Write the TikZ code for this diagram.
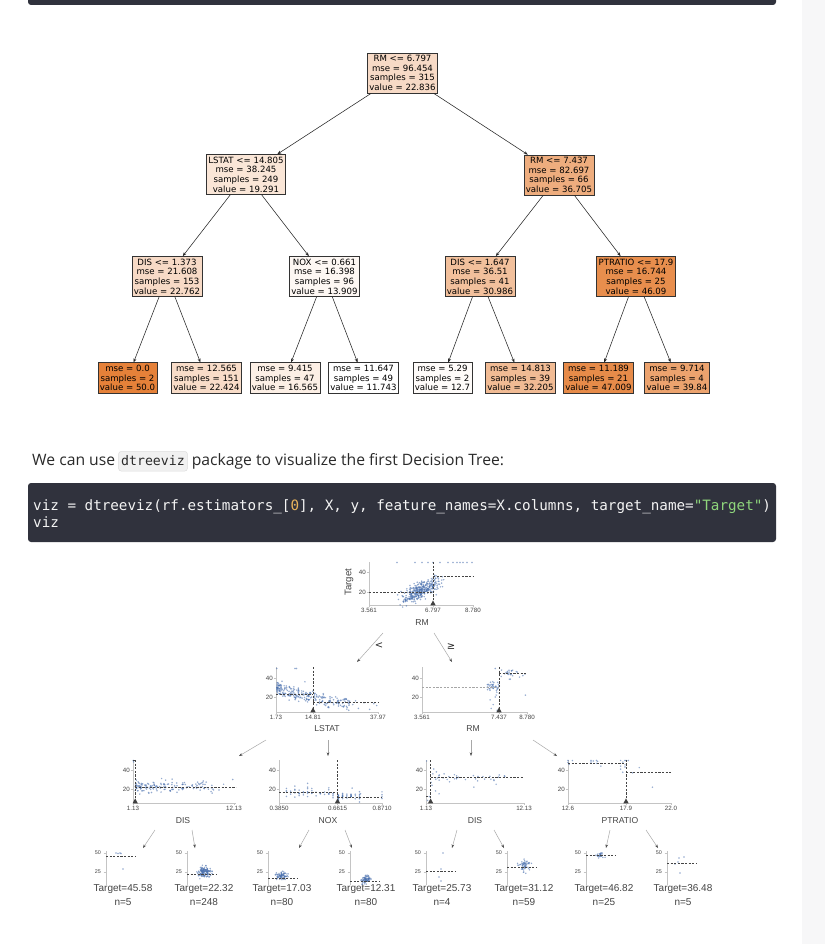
\documentclass[tikz,border=0pt]{standalone}
\usepackage{fontspec}
\setmainfont{Open Sans}
\newfontfamily\dejavu{DejaVu Sans}
\newfontfamily\codefont{DejaVu Sans Mono}
\newfontfamily\lib{Liberation Sans}
\usetikzlibrary{arrows.meta,calc}
\definecolor{sko}{HTML}{E58139}
\definecolor{codebg}{HTML}{30323D}
\definecolor{codefg}{HTML}{F4F4F4}
\definecolor{codenum}{HTML}{E8B35C}
\definecolor{codestr}{HTML}{8FD67C}
\definecolor{chipbg}{HTML}{F1F1F1}
\definecolor{chipbd}{HTML}{DCDCDC}
\definecolor{sidec}{HTML}{F7F7F8}
\definecolor{dotb}{HTML}{4C72B0}
\definecolor{axc}{HTML}{C4C4C4}
\definecolor{labc}{HTML}{444444}
\definecolor{arrc}{HTML}{A8A8A8}
\definecolor{parac}{HTML}{2A2A2A}
\newcount\tkc
\newcommand\tklabel[4]{\global\advance\tkc by 1
  \node[ticklab,anchor=#1] (tk\the\tkc) at (#2,#3) {#4};}
\newcommand\yt[3]{\draw[axl] (#1-2.2,#2) -- (#1,#2); \tklabel{east}{#1-2.6}{#2}{#3}}
\newcommand\xt[3]{\draw[axl] (#1,#2) -- (#1,#2+2.2); \tklabel{north}{#1}{#2+2.6}{#3}}
\newcommand\tri[2]{\fill[black!75] (#1,#2-4.6) -- (#1-2.6,#2+0.3) -- (#1+2.6,#2+0.3) -- cycle;}
\newcommand\blob[7]{\foreach \i in {1,...,#1}{%
  \pgfmathsetmacro\pxq{#2+#4*(rand+rand+rand)}%
  \pgfmathsetmacro\pyq{max(#6,min(#7,#3+#5*(rand+rand+rand)))}%
  \fill[dotc] (\pxq,\pyq) circle[radius=0.8pt];}}
\newcommand\mpts[5]{\foreach \aq/\bq in {#5}{%
  \pgfmathsetmacro\pxq{#1+(\aq-#3)*#2}%
  \pgfmathsetmacro\pyq{#4-0.95*\bq}%
  \fill[dotc] (\pxq,\pyq) circle[radius=0.85pt];}}
\newcommand\leafax[5]{%
  \draw[axl] (#1,851) -- (#1,885);
  \draw[axl] (#1-2.5,853) -- (#1,853);
  \draw[axl] (#1-2.5,872) -- (#1,872);
  \global\advance\tkc by 1
  \node[leaftick,anchor=east] (tk\the\tkc) at (#1-4.5,853) {50};
  \global\advance\tkc by 1
  \node[leaftick,anchor=east] (tk\the\tkc) at (#1-4.5,872) {25};
  \draw[split] (#1,#2) -- (#1+30,#2);
  \global\advance\tkc by 1
  \node[leaflab] (lt\the\tkc) at (#3,889) {Target=#4};
  \node[leaflab] (ln\the\tkc) at (#3,902) {n=#5};}
\begin{document}
\begin{tikzpicture}[x=1pt,y=-1pt,
  tn/.style={draw=black!80, line width=0.6pt, inner xsep=2pt, inner ysep=2.4pt,
     align=center, font=\dejavu\fontsize{8.6}{9.6}\selectfont},
  ta/.style={-{Stealth[length=4pt,width=3pt]}, line width=0.55pt, black!85},
  para/.style={inner sep=0pt, font=\fontsize{15.7}{18}\selectfont, text=parac},
  chip/.style={fill=chipbg, draw=chipbd, line width=0.5pt, rounded corners=2.5pt,
     inner xsep=2.6pt, inner ysep=3pt, text height=10.5pt, text depth=3pt,
     font=\codefont\fontsize{13.2}{15}\selectfont, text=parac},
  code/.style={inner sep=0pt, font=\codefont\fontsize{14.25}{17}\selectfont, text=codefg},
  dotc/.style={fill=dotb, fill opacity=0.6},
  axl/.style={draw=axc, line width=0.7pt},
  split/.style={draw=labc, line width=0.6pt, dash pattern=on 2.2pt off 1.4pt},
  ticklab/.style={inner sep=0.4pt, font=\lib\fontsize{6.2}{7}\selectfont, text=labc},
  leaftick/.style={inner sep=0.4pt, font=\lib\fontsize{5.4}{6}\selectfont, text=labc},
  axlab/.style={inner sep=0pt, font=\lib\fontsize{8.6}{10}\selectfont, text=labc},
  leaflab/.style={inner sep=0pt, font=\lib\fontsize{10}{12}\selectfont, text=labc},
  darr/.style={draw=arrc, line width=0.5pt, -{Stealth[length=3.6pt,width=2.6pt,color=black!70]}},
  rel/.style={inner sep=0pt, font=\dejavu\fontsize{10}{12}\selectfont, text=black!85}]
\useasboundingbox (0,0) rectangle (825,944);
\fill[white] (0,0) rectangle (825,944);
\fill[sidec] (802,0) rectangle (825,944);
\fill[codebg, rounded corners=3pt] (28,-10) rectangle (776,5);

% ---------------- sklearn tree ----------------
\node[tn, fill=sko!29] (root) at (402.5,73) {RM <= 6.797\\mse = 96.454\\samples = 315\\value = 22.836};
\node[tn, fill=sko!20] (lstat) at (246,174.5) {LSTAT <= 14.805\\mse = 38.245\\samples = 249\\value = 19.291};
\node[tn, fill=sko!65] (rm2) at (559,175) {RM <= 7.437\\mse = 82.697\\samples = 66\\value = 36.705};
\node[tn, fill=sko!29] (dis1) at (167,276.5) {DIS <= 1.373\\mse = 21.608\\samples = 153\\value = 22.762};
\node[tn, fill=sko!6] (nox) at (324.5,276.5) {NOX <= 0.661\\mse = 16.398\\samples = 96\\value = 13.909};
\node[tn, fill=sko!50] (dis2) at (480,276.5) {DIS <= 1.647\\mse = 36.51\\samples = 41\\value = 30.986};
\node[tn, fill=sko!90] (ptr) at (636,276.5) {PTRATIO <= 17.9\\mse = 16.744\\samples = 25\\value = 46.09};
\node[tn, fill=sko] (l1) at (127.5,378) {mse = 0.0\\samples = 2\\value = 50.0};
\node[tn, fill=sko!28] (l2) at (206.5,378) {mse = 12.565\\samples = 151\\value = 22.424};
\node[tn, fill=sko!13] (l3) at (285,378) {mse = 9.415\\samples = 47\\value = 16.565};
\node[tn, fill=white] (l4) at (363.5,378) {mse = 11.647\\samples = 49\\value = 11.743};
\node[tn, fill=sko!3] (l5) at (442.5,378) {mse = 5.29\\samples = 2\\value = 12.7};
\node[tn, fill=sko!54] (l6) at (520.5,378) {mse = 14.813\\samples = 39\\value = 32.205};
\node[tn, fill=sko!92] (l7) at (598.5,378) {mse = 11.189\\samples = 21\\value = 47.009};
\node[tn, fill=sko!73] (l8) at (677,378) {mse = 9.714\\samples = 4\\value = 39.84};
\draw[ta] (root) -- (lstat);
\draw[ta] (root) -- (rm2);
\draw[ta] (lstat) -- (dis1);
\draw[ta] (lstat) -- (nox);
\draw[ta] (rm2) -- (dis2);
\draw[ta] (rm2) -- (ptr);
\draw[ta] (dis1) -- (l1);
\draw[ta] (dis1) -- (l2);
\draw[ta] (nox) -- (l3);
\draw[ta] (nox) -- (l4);
\draw[ta] (dis2) -- (l5);
\draw[ta] (dis2) -- (l6);
\draw[ta] (ptr) -- (l7);
\draw[ta] (ptr) -- (l8);

% ---------------- paragraph and code ----------------
\node[para, anchor=base west] (p1) at (32,465) {We can use};
\node[chip, anchor=base west] (chip) at ($(p1.base east)+(3,0)$) {dtreeviz};
\node[para, anchor=base west] (p2) at ($(chip.base east)+(4,0)$) {package to visualize the first Decision Tree:};
\fill[codebg, rounded corners=3pt] (28,483) rectangle (776,542);
\node[code, anchor=base west] (c1) at (33,510) {viz = dtreeviz(rf.estimators\_[{\color{codenum}0}], X, y, feature\_names=X.columns, target\_name={\color{codestr}"Target"})};
\node[code, anchor=base west] (c2) at (33,527) {viz};

% ---------------- dtreeviz: root RM ----------------
\pgfmathsetseed{4242}
\draw[axl] (369,562) -- (369,605) -- (473,605);
\foreach \i in {1,...,340}{%
  \pgfmathsetmacro\xq{6.15+0.47*(rand+rand+rand)}%
  \pgfmathsetmacro\yq{9*(\xq-6.2)+21.5+4.3*(rand+rand+rand)}%
  \pgfmathsetmacro\pxq{369+(max(3.6,min(8.75,\xq))-3.561)*19.93}%
  \pgfmathsetmacro\pyq{612-max(5,min(50,\yq))}%
  \fill[dotc] (\pxq,\pyq) circle[radius=0.85pt];}
\foreach \pxq in {397,415,422,428,433,440,448,453,457,460,463,467,472}{%
  \fill[dotc] (\pxq,562.5) circle[radius=0.85pt];}
\yt{369}{572}{40} \yt{369}{592}{20}
\xt{369}{605}{3.561} \xt{433}{605}{6.797} \xt{473}{605}{8.780}
\node[axlab] (rmlab) at (422,623) {RM};
\node[axlab, rotate=90, font=\lib\fontsize{9.6}{11}\selectfont] (tglab) at (349,582) {Target};
\draw[split] (433,562) -- (433,605);
\draw[split] (369,592) -- (433,592);
\draw[split] (433,576) -- (473,576);
\tri{433}{605}
\coordinate (a1s) at (383,633); \coordinate (a1e) at (357,662);
\coordinate (a2s) at (434,633); \coordinate (a2e) at (452,662);
\draw[darr] (a1s) -- (a1e);
\draw[darr] (a2s) -- (a2e);
\node[rel] (lt) at (379,646) {<};
\node[rel] (ge) at (451,647) {≥};

% ---------------- LSTAT panel ----------------
\draw[axl] (276,667) -- (276,712) -- (378,712);
\foreach \i in {1,...,250}{%
  \pgfmathsetmacro\uq{rnd}%
  \pgfmathsetmacro\xq{2+26*\uq*sqrt(\uq)}%
  \pgfmathsetmacro\yq{31-0.9*\xq+0.008*\xq*\xq+3.3*(rand+rand+rand)}%
  \pgfmathsetmacro\pxq{276+(\xq-1.73)*2.815}%
  \pgfmathsetmacro\pyq{716-0.95*max(5,min(50,\yq))}%
  \fill[dotc] (\pxq,\pyq) circle[radius=0.85pt];}
\mpts{276}{2.815}{1.73}{716}{2/50,8.5/50,9/50,27/9,29/12,31/8,33/14,35/7,36.5/13,37.5/11,30/16,26/17,12/36}
\yt{276}{678}{40} \yt{276}{697}{20}
\xt{276}{712}{1.73} \xt{313}{712}{14.81} \xt{378}{712}{37.97}
\node[axlab] (lslab) at (327,729) {LSTAT};
\draw[split] (313,667) -- (313,712);
\draw[split] (276,694) -- (313,694);
\draw[split] (313,702) -- (378,702);
\tri{313}{712}

% ---------------- RM (right) panel ----------------
\draw[axl] (422,667) -- (422,712) -- (527,712);
\foreach \i in {1,...,38}{%
  \pgfmathsetmacro\xq{6.8+0.63*rnd}%
  \pgfmathsetmacro\yq{31+3*(rand+rand+rand)}%
  \pgfmathsetmacro\pxq{422+(\xq-3.561)*20.12}%
  \pgfmathsetmacro\pyq{716-0.95*max(5,min(50,\yq))}%
  \fill[dotc] (\pxq,\pyq) circle[radius=0.85pt];}
\foreach \i in {1,...,24}{%
  \pgfmathsetmacro\xq{7.45+1.25*rnd}%
  \pgfmathsetmacro\yq{44.5+2.4*(rand+rand+rand)}%
  \pgfmathsetmacro\pxq{422+(\xq-3.561)*20.12}%
  \pgfmathsetmacro\pyq{716-0.95*max(5,min(50,\yq))}%
  \fill[dotc] (\pxq,\pyq) circle[radius=0.85pt];}
\mpts{422}{20.12}{3.561}{716}{7.0/8,7.1/12,6.95/17,7.2/20,7.3/6,7.25/22,8.7/22,7.2/50}
\yt{422}{678}{40} \yt{422}{697}{20}
\xt{422}{712}{3.561} \xt{499}{712}{7.437} \xt{527}{712}{8.780}
\node[axlab] (rm2lab) at (473,729) {RM};
\draw[split] (499,667) -- (499,712);
\draw[split, draw=black!35] (422,687) -- (499,687);
\draw[split] (499,673) -- (527,673);
\tri{499}{712}

\coordinate (b1s) at (266,740); \coordinate (b1e) at (239,756);
\coordinate (b2s) at (328,740); \coordinate (b2e) at (328,756);
\coordinate (b3s) at (471,740); \coordinate (b3e) at (471,756);
\coordinate (b4s) at (533,740); \coordinate (b4e) at (557,756);
\draw[darr] (b1s) -- (b1e);
\draw[darr] (b2s) -- (b2e);
\draw[darr] (b3s) -- (b3e);
\draw[darr] (b4s) -- (b4e);

% ---------------- DIS panel ----------------
\draw[axl] (133,760) -- (133,803) -- (236,803);
\foreach \i in {1,...,150}{%
  \pgfmathsetmacro\uq{rnd}%
  \pgfmathsetmacro\xq{1.35+8.6*\uq*sqrt(\uq)}%
  \pgfmathsetmacro\yq{22.4+3.4*(rand+rand+rand)}%
  \pgfmathsetmacro\pxq{133+(\xq-1.13)*9.18}%
  \pgfmathsetmacro\pyq{808-0.95*max(5,min(50,\yq))}%
  \fill[dotc] (\pxq,\pyq) circle[radius=0.85pt];}
\mpts{133}{9.18}{1.13}{808}{1.16/50,1.2/48.6,11/25,12/30,10.5/19}
\yt{133}{770}{40} \yt{133}{789}{20}
\xt{133}{803}{1.13} \xt{234}{803}{12.13}
\node[axlab] (dislab) at (183,821) {DIS};
\draw[split] (135.2,760) -- (135.2,803);
\draw[split] (133,760.5) -- (135.2,760.5);
\draw[split] (135.2,787) -- (236,787);
\tri{135.2}{803}

% ---------------- NOX panel ----------------
\draw[axl] (279,760) -- (279,803) -- (382,803);
\foreach \i in {1,...,47}{%
  \pgfmathsetmacro\xq{0.42+0.02*floor(12*rnd)}%
  \pgfmathsetmacro\yq{16.5+3*(rand+rand+rand)}%
  \pgfmathsetmacro\pxq{279+(\xq-0.385)*211.9}%
  \pgfmathsetmacro\pyq{808-0.95*max(5,min(50,\yq))}%
  \fill[dotc] (\pxq,\pyq) circle[radius=0.85pt];}
\foreach \i in {1,...,45}{%
  \pgfmathsetmacro\xq{0.665+0.02*floor(6*rnd)}%
  \pgfmathsetmacro\yq{11.4+2.5*(rand+rand+rand)}%
  \pgfmathsetmacro\pxq{279+(\xq-0.385)*211.9}%
  \pgfmathsetmacro\pyq{808-0.95*max(5,min(50,\yq))}%
  \fill[dotc] (\pxq,\pyq) circle[radius=0.85pt];}
\mpts{279}{211.9}{0.385}{808}{0.871/10,0.871/12,0.871/14,0.871/17,0.77/15,0.73/21,0.52/26}
\yt{279}{770}{40} \yt{279}{789}{20}
\xt{279}{803}{0.3850} \xt{337.5}{803}{0.6615} \xt{382}{803}{0.8710}
\node[axlab] (noxlab) at (328,821) {NOX};
\draw[split] (337.5,760) -- (337.5,803);
\draw[split] (279,792.3) -- (337.5,792.3);
\draw[split] (337.5,797) -- (382,797);
\tri{337.5}{803}

% ---------------- DIS (right) panel ----------------
\draw[axl] (426,760) -- (426,803) -- (524,803);
\foreach \i in {1,...,30}{%
  \pgfmathsetmacro\xq{2+8*rnd}%
  \pgfmathsetmacro\yq{32.5+2.6*(rand+rand+rand)}%
  \pgfmathsetmacro\pxq{426+(\xq-1.13)*8.91}%
  \pgfmathsetmacro\pyq{808-0.95*max(5,min(50,\yq))}%
  \fill[dotc] (\pxq,\pyq) circle[radius=0.85pt];}
\mpts{426}{8.91}{1.13}{808}{1.2/49.5,1.3/8,1.5/12,1.7/27,1.8/24,2.2/18,2.6/15,1.9/36,2.0/41,2.3/38,3.5/30,6.5/22,9/25}
\yt{426}{770}{40} \yt{426}{789}{20}
\xt{426}{803}{1.13} \xt{524}{803}{12.13}
\node[axlab] (dis2lab) at (475,821) {DIS};
\draw[split] (430.6,760) -- (430.6,803);
\draw[split] (426,796) -- (430.6,796);
\draw[split] (430.6,777.4) -- (524,777.4);
\tri{430.6}{803}

% ---------------- PTRATIO panel ----------------
\draw[axl] (568,760) -- (568,803) -- (671,803);
\mpts{568}{10.96}{12.6}{808}{12.6/48,12.6/50,12.7/46,13.0/50,14.7/50,14.7/48.5,14.9/49.5,15.2/50,15.3/49,15.2/47,15.6/44,16.6/46.7,17.4/50,17.4/44,17.4/41,17.6/37.6,17.6/48.3,17.8/50,17.8/45.4,17.8/43.1,17.9/50,18.5/37,19.1/42.5,20.3/21.9,18.1/50}
\yt{568}{770}{40} \yt{568}{789}{20}
\xt{568}{803}{12.6} \xt{626}{803}{17.9} \xt{671}{803}{22.0}
\node[axlab] (ptlab) at (620,821) {PTRATIO};
\draw[split] (626,760) -- (626,803);
\draw[split] (568,763.3) -- (626,763.3);
\draw[split] (626,772) -- (671,772);
\tri{626}{803}

\coordinate (c1s) at (155,830); \coordinate (c1e) at (143,848);
\coordinate (c2s) at (192,830); \coordinate (c2e) at (195,848);
\coordinate (c3s) at (309,830); \coordinate (c3e) at (299,848);
\coordinate (c4s) at (345,830); \coordinate (c4e) at (352,848);
\coordinate (c5s) at (457,830); \coordinate (c5e) at (452,848);
\coordinate (c6s) at (494,830); \coordinate (c6e) at (504,848);
\coordinate (c7s) at (610,830); \coordinate (c7e) at (606,848);
\coordinate (c8s) at (646,830); \coordinate (c8e) at (658,848);
\foreach \k in {1,...,8}{\draw[darr] (c\k s) -- (c\k e);}

% ---------------- leaves ----------------
\foreach \pxq/\pyq in {116/853,118/853.5,120/853,121/853.5,123/869}{\fill[dotc] (\pxq,\pyq) circle[radius=0.85pt];}
\leafax{106}{856.4}{123}{45.58}{5}
\blob{150}{204}{872}{3.4}{2.8}{852}{886}
\leafax{187}{874}{204}{22.32}{248}
\blob{80}{282}{876}{3.0}{1.9}{852}{886}
\leafax{268}{878}{282}{17.03}{80}
\blob{80}{366}{879}{2.6}{2.1}{852}{886}
\leafax{350}{881.6}{366}{12.31}{80}
\foreach \pxq/\pyq in {443/853,441/869,439/877,441/881}{\fill[dotc] (\pxq,\pyq) circle[radius=0.85pt];}
\leafax{426}{871.4}{442}{25.73}{4}
\blob{59}{524}{866}{3.0}{3.0}{852}{886}
\leafax{507}{867.3}{524}{31.12}{59}
\blob{25}{600}{855}{2.8}{1.5}{853}{886}
\leafax{586}{855.4}{604}{46.82}{25}
\foreach \pxq/\pyq in {679/858,684/857,678/862,680/873,675/864}{\fill[dotc] (\pxq,\pyq) circle[radius=0.85pt];}
\leafax{667}{863.3}{683}{36.48}{5}
\end{tikzpicture}
\end{document}
